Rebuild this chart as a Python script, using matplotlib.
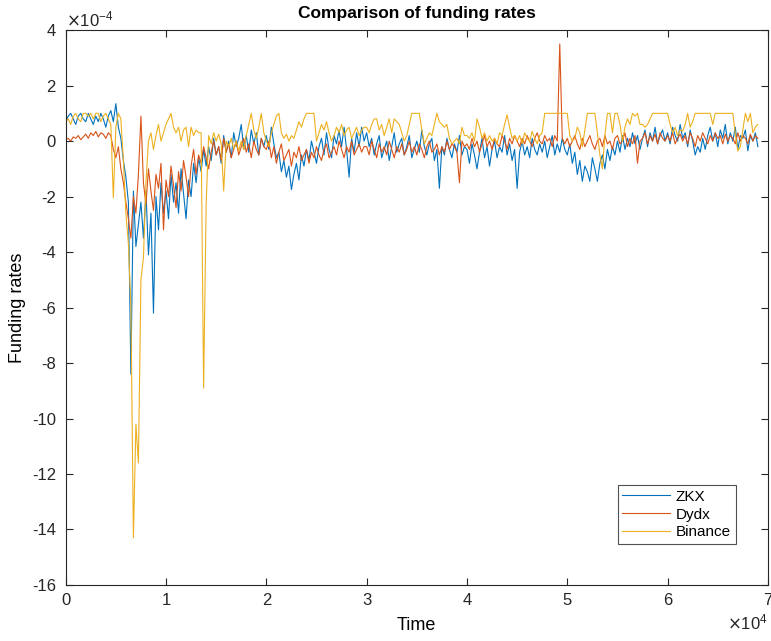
import numpy as np
import matplotlib
matplotlib.use("Agg")
import matplotlib.pyplot as plt
from matplotlib.ticker import ScalarFormatter

# Funding-rate samples (units of 1e-4), sampled every 250 time steps
STEP = 250
SCALE = 1e-4

zkx = [
    # 0 - 9750
    0.7, 0.9, 1.0, 0.8, 0.6, 0.9, 1.0, 0.8, 0.7, 1.0,
    0.8, 0.6, 0.9, 0.7, 1.0, 0.8, 0.5, 0.9, 1.1, 0.7,
    1.35, 0.5, 0.1, -0.7, -1.3, -2.2, -8.4, -1.8, -3.8, -3.0,
    -2.2, -3.5, -1.8, -4.1, -2.6, -6.2, -2.0, -3.2, -1.5, -2.6,
    # 10000 - 19750
    -1.8, -2.8, -1.2, -2.2, -1.5, -2.6, -1.0, -1.9, -2.8, -1.4,
    -2.0, -0.8, -1.5, -0.6, -1.1, -0.3, -0.9, -0.2, -0.7, 0.1,
    -0.5, -0.2, -0.8, 0.2, -0.4, 0.0, -0.6, 0.3, -0.2, 0.1,
    0.6, -0.3, 0.2, -0.4, 0.4, -0.1, 0.3, -0.5, 0.1, -0.2,
    # 20000 - 29750
    0.2, -0.3, 0.5, -0.1, -0.6, -0.4, -1.1, -0.7, -1.3, -0.9,
    -1.75, -1.2, -0.8, -1.4, -0.5, -0.9, -0.3, -0.7, 0.0, -0.4,
    -0.8, -0.2, 0.1, -0.5, 0.3, -0.3, -0.6, 0.2, -0.1, 0.4,
    -0.2, 0.5, -0.3, -1.3, 0.1, -0.4, 0.3, -0.2, 0.5, 0.0,
    # 30000 - 39750
    0.3, -0.2, 0.1, -0.5, -0.1, 0.2, -0.6, -0.3, 0.0, -0.7,
    -0.2, 0.3, -0.4, -0.1, 0.1, -0.5, -0.2, 0.2, -0.6, -0.3,
    0.0, -0.4, 0.4, -0.2, -0.5, -0.1, 0.1, -0.7, -0.3, -1.7,
    -0.2, -0.5, 0.1, -0.3, -0.6, -0.1, -0.4, 0.2, -0.5, -0.2,
    # 40000 - 49750
    -0.3, -0.8, -0.1, -0.5, -1.0, -0.4, 0.1, -0.6, -0.2, -0.9,
    -0.3, 0.0, -0.6, -0.2, -0.4, 0.2, -0.5, -0.1, -0.7, -0.3,
    -1.7, -0.4, 0.0, -0.5, -0.2, -0.6, 0.1, -0.3, -0.5, -0.1,
    -0.4, 0.0, -0.6, -0.2, 0.2, -0.5, -0.1, -0.4, 0.1, -0.3,
    # 50000 - 59750
    -0.5, -0.1, -0.8, -0.4, -1.2, -0.7, -1.45, -0.9, -1.1, -1.45,
    -0.6, -1.0, -1.45, -0.8, -0.5, -1.0, -0.3, -0.7, -0.2, -0.5,
    0.0, -0.4, 0.2, -0.3, 0.1, -0.2, 0.3, -0.1, 0.2, -0.3,
    0.1, 0.4, -0.2, 0.3, 0.0, 0.5, -0.1, 0.2, 0.4, 0.0,
    # 60000 - 69000
    0.3, -0.1, 0.5, 0.2, 0.0, 0.6, 0.1, 0.3, -0.2, 0.4,
    0.0, -0.5, -0.2, -0.4, 0.1, -0.3, 0.2, 0.5, 0.0, 0.3,
    -0.2, 0.4, 0.1, 0.6, -0.1, 0.3, 0.0, 0.5, -0.3, 0.2,
    0.1, 0.4, -0.35, 0.2, 0.0, 0.3, -0.2,
]

dydx = [
    # 0 - 9750
    0.05, 0.1, 0.0, 0.15, 0.1, 0.2, 0.05, 0.15, 0.25, 0.1,
    0.3, 0.2, 0.35, 0.15, 0.3, 0.25, 0.1, 0.3, 0.2, -0.3,
    -0.6, -0.2, -1.0, -1.5, -2.2, -2.8, -3.5, -2.0, -2.6, -1.2,
    0.9, -1.5, -2.3, -1.0, -1.8, -2.5, -1.2, -1.7, -0.8, -3.2,
    # 10000 - 19750
    -1.4, -2.0, -0.9, -1.6, -2.4, -1.1, -1.8, -0.7, -1.3, -2.0,
    -0.9, -0.3, -1.2, -0.5, -0.8, -0.2, -0.6, -1.0, -0.4, 0.0,
    -0.5, -0.2, -0.7, 0.1, -0.4, -0.1, -0.6, -0.3, 0.0, -0.5,
    -0.2, 0.1, -0.4, -0.1, -0.6, 0.0, -0.3, -0.5, 0.1, -0.2,
    # 20000 - 29750
    -0.3, 0.0, -0.6, -0.2, -0.8, -0.4, -0.1, -0.7, -0.5, -0.3,
    -0.9, -0.4, -0.6, -0.2, -0.7, -0.5, -0.3, -0.8, -0.4, -0.6,
    -0.2, -0.5, -0.7, -0.3, -0.1, -0.6, -0.4, -0.2, -0.5, 0.0,
    -0.3, -0.6, -0.2, -0.4, 0.0, -0.5, -0.3, -0.1, -0.4, -0.2,
    # 30000 - 39750
    -0.2, -0.5, 0.0, -0.3, -0.6, -0.1, -0.4, -0.2, -0.5, 0.0,
    -0.3, -0.6, -0.2, -0.4, -0.1, -0.5, -0.3, 0.0, -0.4, -0.2,
    -0.5, -0.1, -0.3, -0.6, -0.2, 0.0, -0.4, -0.3, -0.1, -0.5,
    -0.2, -0.4, 0.0, -0.3, -0.1, -0.2, -0.4, -1.5, 0.0, -0.2,
    # 40000 - 49750
    -0.1, -0.3, 0.1, -0.2, 0.0, -0.4, -0.1, 0.2, -0.2, 0.0,
    -0.3, 0.1, -0.1, -0.2, 0.2, 0.0, -0.3, 0.1, -0.1, 0.2,
    0.0, -0.2, 0.1, -0.1, 0.2, 0.0, -0.2, 0.1, 0.3, 0.0,
    -0.1, 0.2, 0.0, 0.1, -0.2, 0.2, 0.0, 3.5, 0.1, -0.1,
    # 50000 - 59750
    0.1, -0.2, 0.0, 0.2, -0.1, -0.3, 0.1, -0.2, 0.0, 0.2,
    -0.1, -0.3, 0.0, 0.1, -0.2, 0.2, -0.1, 0.0, -0.3, 0.1,
    0.2, -0.1, 0.0, 0.3, -0.2, 0.1, -0.1, 0.2, -0.8, 0.0,
    0.1, 0.3, -0.1, 0.2, 0.0, 0.25, -0.1, 0.3, 0.1, 0.0,
    # 60000 - 69000
    0.2, 0.0, 0.3, -0.1, 0.1, 0.25, 0.0, 0.2, -0.1, 0.3,
    0.1, -0.2, 0.2, 0.0, 0.3, 0.1, -0.1, 0.2, 0.0, 0.3,
    0.1, 0.2, -0.1, 0.25, 0.0, 0.2, 0.1, -0.1, 0.3, 0.0,
    0.2, 0.1, -0.1, 0.25, 0.0, 0.2, 0.1,
]

binance = [
    # 0 - 9750
    0.7, 0.8, 0.6, 0.9, 1.0, 0.8, 0.7, 1.0, 1.0, 0.9,
    1.0, 0.8, 1.0, 1.0, 0.7, 0.9, 1.0, 0.8, 0.6, -2.05,
    0.5, 1.0, 0.8, -0.7, -2.6, -3.7, -6.0, -14.3, -10.2, -11.6,
    -5.0, -4.2, -1.5, 0.0, 0.3, -0.3, 0.2, 0.6, 0.0, 0.3,
    # 10000 - 19750
    0.6, 0.8, 1.0, 0.5, 0.3, 0.5, 0.0, 0.4, 0.5, -0.2,
    0.5, 0.2, 0.4, 0.3, 0.3, -8.9, -2.3, 0.2, -0.1, 0.3,
    0.0, 0.25, -0.1, -1.8, 0.0, -0.2, 0.1, -0.3, 0.0, -0.36,
    0.0, -0.3, 0.2, 0.6, 1.0, 0.4, 0.1, 0.5, 1.0, 0.3,
    # 20000 - 29750
    0.0, -0.2, 0.3, 0.6, 0.9, 1.0, 0.3, 0.1, 0.25, 0.0,
    0.2, 0.1, 0.4, 0.7, 0.5, 0.8, 1.0, 1.0, 1.0, 1.0,
    0.0, 0.3, 0.6, 0.4, 0.7, 0.3, 0.0, 0.2, 0.5, 0.3,
    0.6, 0.2, 0.4, 0.5, 0.1, 0.3, 0.5, 0.2, 0.4, 0.5,
    # 30000 - 39750
    0.5, 0.3, 0.6, 0.8, 0.8, 0.4, 0.6, 0.2, 0.5, 0.8,
    0.3, 0.8, 0.7, 0.6, 0.3, 0.0, 0.2, 0.6, 1.0, 1.0,
    1.0, 1.0, 0.4, -0.1, 0.1, 0.3, 0.2, 0.6, 1.0, 0.7,
    0.6, 0.5, 0.6, 0.1, -0.1, 0.0, 0.1, -0.1, 0.5, 0.2,
    # 40000 - 49750
    0.2, 0.1, 0.3, 0.0, 0.8, 0.5, 0.1, 0.3, 0.0, 0.2,
    0.0, 0.1, -0.1, 0.3, 0.2, 0.6, 0.95, 0.5, 0.1, 0.2,
    0.0, 0.2, -0.1, 0.3, 0.1, 0.0, 0.35, 0.1, -0.1, 0.2,
    0.3, 1.0, 1.0, 1.0, 1.0, 1.0, 1.0, 1.0, 1.0, 1.0,
    # 50000 - 59750
    1.0, 0.2, 0.0, 0.1, 0.5, 0.3, -0.2, 0.4, 1.0, 1.0,
    1.0, 1.0, 0.3, -0.5, -1.0, 0.2, 1.0, 1.0, 0.3, 1.0,
    1.0, 0.6, 0.0, 0.5, 0.8, 0.6, 1.0, 0.9, 1.0, 0.6,
    0.6, 0.5, 0.6, 0.8, 1.0, 1.0, 1.0, 1.0, 1.0, 1.0,
    # 60000 - 69000
    1.0, 0.6, 0.3, 0.5, 0.2, 0.4, 0.36, 0.6, 1.0, 0.5,
    0.7, 1.0, 1.0, 1.0, 1.0, 1.0, 1.0, 1.0, 0.6, 1.0,
    1.0, 1.0, 1.0, 1.0, 1.0, 1.0, 1.0, 0.25, -0.36, -0.2,
    0.4, 1.0, 0.7, 1.0, 0.3, 0.5, 0.6,
]

series_names = ["ZKX", "Dydx", "Binance"]
series_colors = ["#0072BD", "#D95319", "#EDB120"]

plt.rcParams["font.family"] = ["Liberation Sans", "DejaVu Sans"]
plt.rcParams["axes.unicode_minus"] = False


class FixedOrderFormatter(ScalarFormatter):
    def __init__(self, order):
        self._fixed_order = order
        super().__init__(useMathText=True)

    def _set_order_of_magnitude(self):
        self.orderOfMagnitude = self._fixed_order

    def _set_format(self):
        self.format = "%1.0f"


fig = plt.figure(figsize=(7.71, 6.41), dpi=100)
ax = fig.add_axes([0.0852, 0.0874, 0.9108, 0.8656])

for name, vals, col in zip(series_names, [zkx, dydx, binance], series_colors):
    v = np.asarray(vals) * SCALE
    t = np.arange(len(v)) * STEP
    ax.plot(t, v, color=col, lw=0.8, label=name)

ax.set_xlim(0, 70000)
ax.set_ylim(-16e-4, 4e-4)
ax.set_xticks(np.arange(0, 70001, 10000))
ax.set_yticks(np.arange(-16e-4, 4.01e-4, 2e-4))

ax.xaxis.set_major_formatter(FixedOrderFormatter(4))
ax.yaxis.set_major_formatter(FixedOrderFormatter(-4))

edge = "#262626"
for s in ax.spines.values():
    s.set_color(edge)
    s.set_linewidth(0.8)
ax.tick_params(direction="in", top=True, right=True, length=5, width=0.8,
               colors=edge, labelsize=12, labelcolor="#262626")
ax.tick_params(axis="y", pad=7)
ax.tick_params(axis="x", pad=6)
ax.xaxis.get_offset_text().set_fontsize(12)
ax.yaxis.get_offset_text().set_fontsize(12)

ax.set_title("Comparison of funding rates", fontsize=12.5, fontweight="bold", pad=9)
ax.set_xlabel("Time", fontsize=13, labelpad=6)
ax.set_ylabel("Funding rates", fontsize=13, labelpad=4)

leg = ax.legend(loc="lower right", bbox_to_anchor=(0.954, 0.074), borderaxespad=0,
                fontsize=11, frameon=True, fancybox=False, handlelength=3.1,
                borderpad=0.3, labelspacing=0.25, handletextpad=0.4)
leg.get_frame().set_edgecolor("#262626")
leg.get_frame().set_linewidth(0.8)

fig.savefig("out.png", dpi=100)
